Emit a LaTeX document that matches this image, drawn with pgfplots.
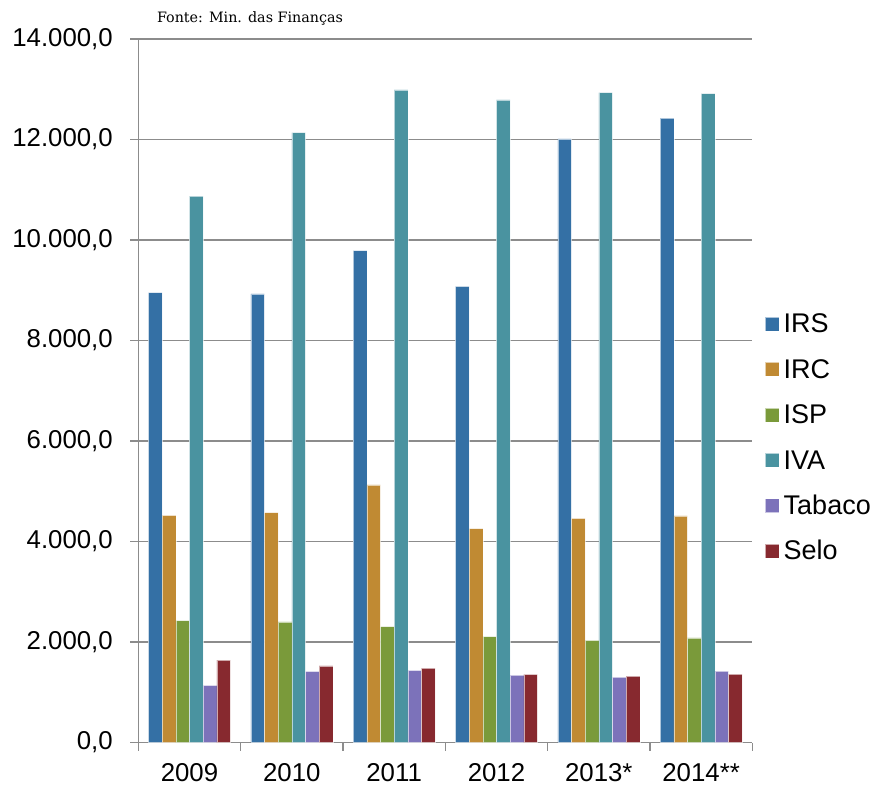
\documentclass[border=0pt]{standalone}
\usepackage{pgfplots}
\pgfplotsset{compat=1.18}
\usepackage{fontspec}
\setmainfont{Liberation Sans}
\newfontfamily\notefont{DejaVu Serif}

\definecolor{cIRS}{RGB}{52,112,165}
\definecolor{cIRC}{RGB}{192,138,51}
\definecolor{cISP}{RGB}{122,154,58}
\definecolor{cIVA}{RGB}{74,147,160}
\definecolor{cTab}{RGB}{124,114,186}
\definecolor{cSelo}{RGB}{135,41,47}
\definecolor{axgray}{RGB}{140,140,140}

\begin{document}
\begin{tikzpicture}
\path[use as bounding box] (-138.3pt,-42.5pt) rectangle (735.7pt,742.5pt);
\begin{axis}[
  at={(0pt,0pt)}, anchor=south west,
  scale only axis,
  width=614pt, height=703.5pt,
  ybar=0pt, bar width=13.67pt,
  xmin=-0.5, xmax=5.5,
  ymin=0, ymax=14000,
  ytick={0,2000,...,14000},
  xtick={0,...,5},
  xticklabels={2009,2010,2011,2012,2013*,2014**},
  minor xtick={-0.5,0.5,...,5.5},
  axis x line*=bottom, axis y line*=left,
  axis line style={axgray, line width=1.5pt},
  tick align=outside,
  major tick length=8pt, minor tick length=8pt,
  major x tick style={draw=none},
  minor x tick style={axgray, line width=1.5pt},
  major y tick style={axgray, line width=1.5pt},
  ymajorgrids,
  major grid style={axgray, line width=1.5pt},
  tick label style={font=\fontsize{25.8}{30}\selectfont},
  yticklabel style={xshift=-14pt},
  xticklabel style={yshift=-9pt},
  scaled y ticks=false,
  /pgf/number format/.cd, fixed, fixed zerofill, precision=1,
    use comma, 1000 sep={.}, assume math mode=true,
  /pgfplots/.cd,
  every axis plot/.append style={draw=white, draw opacity=0.6, line width=0.5pt},
  legend image code/.code={\fill[#1] (0pt,-7pt) rectangle (14pt,7pt);},
  legend style={draw=none, fill=none, at={(1.021,0.612)}, anchor=north west,
    inner sep=0pt, outer sep=0pt, row sep=21.4pt, column sep=1pt,
    font=\fontsize{27}{31}\selectfont,
    nodes={inner sep=3pt, text height=18pt, text depth=0pt, anchor=west}},
  legend cell align=left,
]
\addplot[fill=cIRS]  coordinates {(0,8952) (1,8926) (2,9787) (3,9078) (4,12010) (5,12425)};
\addplot[fill=cIRC]  coordinates {(0,4520) (1,4574) (2,5128) (3,4254) (4,4460) (5,4508)};
\addplot[fill=cISP]  coordinates {(0,2425) (1,2399) (2,2305) (3,2106) (4,2034) (5,2080)};
\addplot[fill=cIVA]  coordinates {(0,10875) (1,12139) (2,12988) (3,12789) (4,12934) (5,12914)};
\addplot[fill=cTab]  coordinates {(0,1137) (1,1416) (2,1436) (3,1342) (4,1302) (5,1422)};
\addplot[fill=cSelo] coordinates {(0,1641) (1,1527) (2,1482) (3,1356) (4,1322) (5,1362)};
\legend{IRS,IRC,ISP,IVA,Tabaco,Selo}
\end{axis}
\node[anchor=west, inner sep=0pt, font=\notefont\fontsize{14.3}{17}\selectfont] at (18.5pt,724pt) {Fonte: Min. das Finanças};
\end{tikzpicture}
\end{document}
